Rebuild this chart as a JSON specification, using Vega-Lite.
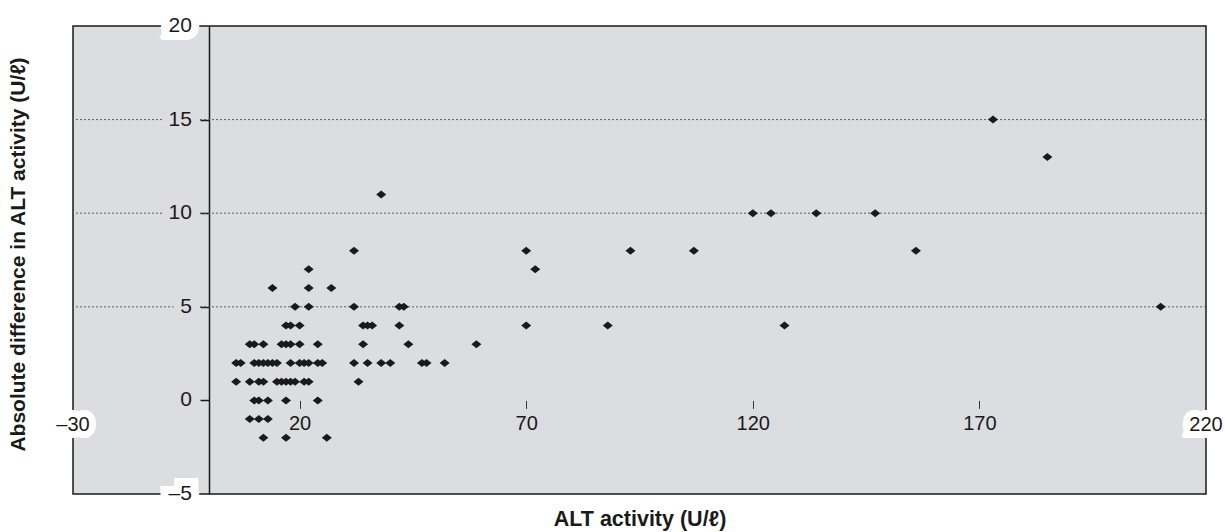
{
  "$schema": "https://vega.github.io/schema/vega-lite/v6.json",
  "width": 1133,
  "height": 468,
  "autosize": {"type": "none"},
  "padding": {"left": 73, "top": 26, "right": 19, "bottom": 38},
  "background": "white",
  "config": {
    "view": {"fill": "#dcdde0", "stroke": "#1a1a1a", "strokeWidth": 1.5},
    "font": "Liberation Sans"
  },
  "datasets": {
    "points": [
      {"alt": 12, "diff": -2}, {"alt": 17, "diff": -2}, {"alt": 26, "diff": -2},
      {"alt": 9, "diff": -1}, {"alt": 11, "diff": -1}, {"alt": 13, "diff": -1},
      {"alt": 10, "diff": 0}, {"alt": 11, "diff": 0}, {"alt": 13, "diff": 0}, {"alt": 17, "diff": 0}, {"alt": 24, "diff": 0},
      {"alt": 6, "diff": 1}, {"alt": 9, "diff": 1}, {"alt": 11, "diff": 1}, {"alt": 12, "diff": 1}, {"alt": 15, "diff": 1}, {"alt": 16, "diff": 1}, {"alt": 17, "diff": 1}, {"alt": 18, "diff": 1}, {"alt": 19, "diff": 1}, {"alt": 21, "diff": 1}, {"alt": 22, "diff": 1}, {"alt": 33, "diff": 1},
      {"alt": 6, "diff": 2}, {"alt": 7, "diff": 2}, {"alt": 10, "diff": 2}, {"alt": 11, "diff": 2}, {"alt": 12, "diff": 2}, {"alt": 13, "diff": 2}, {"alt": 14, "diff": 2}, {"alt": 15, "diff": 2}, {"alt": 18, "diff": 2}, {"alt": 20, "diff": 2}, {"alt": 21, "diff": 2}, {"alt": 22, "diff": 2}, {"alt": 24, "diff": 2}, {"alt": 25, "diff": 2}, {"alt": 32, "diff": 2}, {"alt": 35, "diff": 2}, {"alt": 38, "diff": 2}, {"alt": 40, "diff": 2}, {"alt": 47, "diff": 2}, {"alt": 48, "diff": 2}, {"alt": 52, "diff": 2},
      {"alt": 9, "diff": 3}, {"alt": 10, "diff": 3}, {"alt": 12, "diff": 3}, {"alt": 16, "diff": 3}, {"alt": 17, "diff": 3}, {"alt": 18, "diff": 3}, {"alt": 20, "diff": 3}, {"alt": 24, "diff": 3}, {"alt": 34, "diff": 3}, {"alt": 44, "diff": 3}, {"alt": 59, "diff": 3},
      {"alt": 17, "diff": 4}, {"alt": 18, "diff": 4}, {"alt": 20, "diff": 4}, {"alt": 34, "diff": 4}, {"alt": 35, "diff": 4}, {"alt": 36, "diff": 4}, {"alt": 42, "diff": 4}, {"alt": 70, "diff": 4}, {"alt": 88, "diff": 4}, {"alt": 127, "diff": 4},
      {"alt": 19, "diff": 5}, {"alt": 22, "diff": 5}, {"alt": 32, "diff": 5}, {"alt": 42, "diff": 5}, {"alt": 43, "diff": 5}, {"alt": 210, "diff": 5},
      {"alt": 14, "diff": 6}, {"alt": 22, "diff": 6}, {"alt": 27, "diff": 6},
      {"alt": 22, "diff": 7}, {"alt": 72, "diff": 7},
      {"alt": 32, "diff": 8}, {"alt": 70, "diff": 8}, {"alt": 93, "diff": 8}, {"alt": 107, "diff": 8}, {"alt": 156, "diff": 8},
      {"alt": 120, "diff": 10}, {"alt": 124, "diff": 10}, {"alt": 134, "diff": 10}, {"alt": 147, "diff": 10},
      {"alt": 38, "diff": 11},
      {"alt": 185, "diff": 13},
      {"alt": 173, "diff": 15}
    ],
    "grid": [{"v": 5}, {"v": 10}, {"v": 15}],
    "ylabels": [
      {"v": 20, "label": "20"}, {"v": 15, "label": "15"}, {"v": 10, "label": "10"},
      {"v": 5, "label": "5"}, {"v": 0, "label": "0"}, {"v": -5, "label": "–5"}
    ],
    "xends": [{"v": -30, "label": "–30"}, {"v": 220, "label": "220"}]
  },
  "layer": [
    {
      "data": {"name": "grid"},
      "mark": {"type": "rule", "color": "#5a5a5a", "strokeWidth": 1, "strokeDash": [2, 2]},
      "encoding": {"y": {"field": "v", "type": "quantitative", "scale": {"domain": [-5, 20], "nice": false, "zero": false}}}
    },
    {
      "mark": {"type": "rule", "color": "#222222", "strokeWidth": 1, "strokeDash": [3, 2]},
      "encoding": {"y": {"datum": 0, "type": "quantitative"}}
    },
    {
      "data": {"name": "points"},
      "mark": {"type": "point", "shape": "M-1,0L0,-0.8L1,0L0,0.8Z", "filled": true, "color": "#1a1a1a", "opacity": 1, "size": 100},
      "encoding": {
        "x": {
          "field": "alt", "type": "quantitative",
          "scale": {"domain": [-30, 220], "nice": false, "zero": false},
          "axis": {
            "orient": "bottom", "offset": -93.6, "domain": false, "grid": false,
            "values": [20, 70, 120, 170], "tickSize": 8, "tickColor": "#333333", "tickWidth": 1,
            "labelFontSize": 20, "labelColor": "#1a1a1a", "labelPadding": 5,
            "title": "ALT activity (U/ℓ)", "titleFontSize": 21.5, "titleFontWeight": "bold", "titleColor": "#1a1a1a",
            "titleY": 119, "titleBaseline": "middle"
          }
        },
        "y": {
          "field": "diff", "type": "quantitative",
          "scale": {"domain": [-5, 20], "nice": false, "zero": false},
          "axis": {
            "orient": "left", "offset": -136, "grid": false, "labels": false,
            "values": [0, 5, 10, 15], "tickSize": 9, "tickColor": "#1a1a1a", "tickWidth": 1.5,
            "domainColor": "#1a1a1a", "domainWidth": 1.5,
            "title": "Absolute difference in ALT activity (U/ℓ)", "titleFontSize": 21, "titleFontWeight": "bold", "titleColor": "#1a1a1a",
            "titleX": -191, "titleY": 228, "titleAngle": -90, "titleBaseline": "middle", "titleAlign": "center"
          }
        }
      }
    },
    {
      "data": {"name": "ylabels"},
      "transform": [{"filter": "datum.v > -5 && datum.v < 20"}],
      "mark": {"type": "text", "align": "right", "baseline": "middle", "dx": -17, "fontSize": 21, "stroke": "#dcdde0", "strokeWidth": 14, "strokeJoin": "miter", "fill": "#dcdde0"},
      "encoding": {
        "x": {"datum": 0, "type": "quantitative"},
        "y": {"field": "v", "type": "quantitative"},
        "text": {"field": "label"}
      }
    },
    {
      "data": {"name": "ylabels"},
      "transform": [{"filter": "datum.v == -5 || datum.v == 20"}],
      "mark": {"type": "text", "align": "right", "baseline": "middle", "dx": -17, "fontSize": 21, "stroke": "white", "strokeWidth": 16, "strokeJoin": "miter", "fill": "white"},
      "encoding": {
        "x": {"datum": 0, "type": "quantitative"},
        "y": {"field": "v", "type": "quantitative"},
        "text": {"field": "label"}
      }
    },
    {
      "data": {"name": "ylabels"},
      "mark": {"type": "text", "align": "right", "baseline": "middle", "dx": -17, "fontSize": 21, "fill": "#1a1a1a"},
      "encoding": {
        "x": {"datum": 0, "type": "quantitative"},
        "y": {"field": "v", "type": "quantitative"},
        "text": {"field": "label"}
      }
    },
    {
      "data": {"name": "xends"},
      "mark": {"type": "text", "align": "center", "baseline": "middle", "dy": 25, "fontSize": 20, "stroke": "white", "strokeWidth": 14, "strokeJoin": "miter", "fill": "white"},
      "encoding": {
        "x": {"field": "v", "type": "quantitative"},
        "y": {"datum": 0, "type": "quantitative"},
        "text": {"field": "label"}
      }
    },
    {
      "data": {"name": "xends"},
      "mark": {"type": "text", "align": "center", "baseline": "middle", "dy": 25, "fontSize": 20, "fill": "#1a1a1a"},
      "encoding": {
        "x": {"field": "v", "type": "quantitative"},
        "y": {"datum": 0, "type": "quantitative"},
        "text": {"field": "label"}
      }
    }
  ]
}
